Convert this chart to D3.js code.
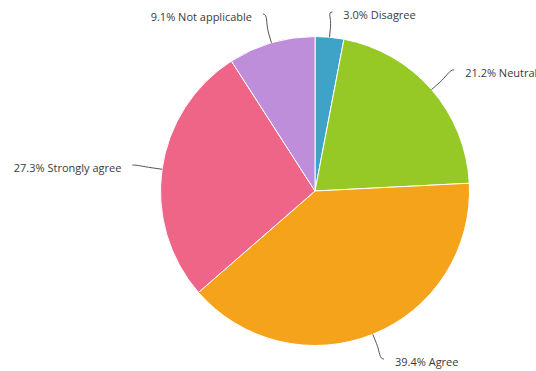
<!DOCTYPE html>
<html>
<head>
<meta charset="utf-8">
<script src="https://cdn.jsdelivr.net/npm/d3@7"></script>
<style>
  html, body { margin: 0; padding: 0; background: #fff; }
  svg { display: block; }
  .label { font-family: "Open Sans", "DejaVu Sans", sans-serif; font-size: 11px; fill: #3a3a3a; }
</style>
</head>
<body>
<svg id="chart" width="536" height="371"></svg>
<script>
// Survey responses, share of respondents (%)
const categories = ["Disagree", "Neutral", "Agree", "Strongly agree", "Not applicable"];
const values = [3.0, 21.2, 39.4, 27.3, 9.1];
const colors = ["#3ea3c6", "#96c826", "#f5a31b", "#ee6587", "#bf8edb"];

const width = 536, height = 371;
const cx = 315, cy = 191, radius = 154.5;
const labelDistance = 30;

const svg = d3.select("#chart");
const g = svg.append("g").attr("transform", `translate(${cx},${cy})`);

const data = categories.map((c, i) => ({ category: c, value: values[i], color: colors[i] }));

const pie = d3.pie().sort(null).value(d => d.value);
const arcs = pie(data);
const arc = d3.arc().innerRadius(0).outerRadius(radius);

g.selectAll("path.slice")
  .data(arcs)
  .join("path")
  .attr("class", "slice")
  .attr("d", arc)
  .attr("fill", d => d.data.color)
  .attr("stroke", "#fff")
  .attr("stroke-width", 1);

// Point at radius rr along angle a (d3 angles: 0 at 12 o'clock, clockwise)
const polar = (a, rr) => ({ x: Math.sin(a) * rr, y: -Math.cos(a) * rr });

const labels = arcs.map(d => {
  const a = (d.startAngle + d.endAngle) / 2;
  const right = Math.sin(a) >= 0;
  const touch = polar(a, radius);
  const brk = polar(a, radius + 10);
  const pos = polar(a, radius + labelDistance);
  // keep labels inside the drawing area
  pos.y = Math.max(-cy + 12, Math.min(height - cy - 12, pos.y));
  return { d, a, right, touch, brk, pos };
});

// soft connectors from each slice edge to its label
g.selectAll("path.connector")
  .data(labels)
  .join("path")
  .attr("class", "connector")
  .attr("fill", "none")
  .attr("stroke", "#555")
  .attr("stroke-width", 1)
  .attr("d", l => {
    const p = l.pos, b = l.brk, t = l.touch;
    const c1x = p.x + (l.right ? -5 : 5);
    return `M${p.x},${p.y} C${c1x},${p.y} ${2 * b.x - t.x},${2 * b.y - t.y} ${b.x},${b.y} L${t.x},${t.y}`;
  });

const fmt = d3.format(".1f");
g.selectAll("text.label")
  .data(labels)
  .join("text")
  .attr("class", "label")
  .attr("x", l => l.pos.x + (l.right ? 11 : -11))
  .attr("y", l => l.pos.y + 7)
  .attr("text-anchor", l => l.right ? "start" : "end")
  .text(l => `${fmt(l.d.data.value)}% ${l.d.data.category}`);
</script>
</body>
</html>
